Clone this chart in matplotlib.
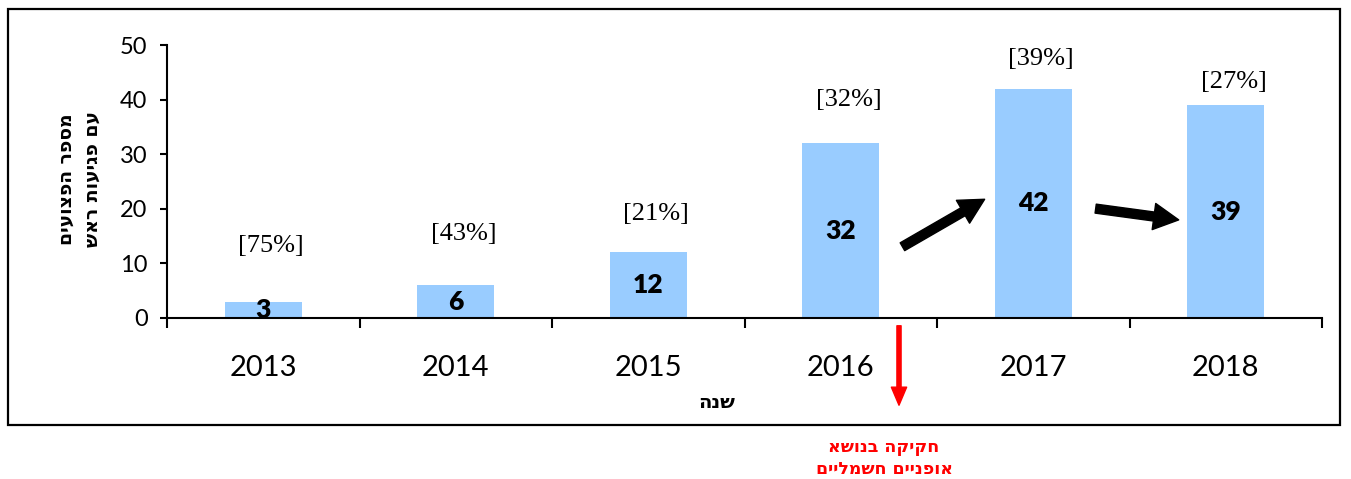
import matplotlib
matplotlib.use("Agg")
import matplotlib.pyplot as plt
from matplotlib.patches import Rectangle, FancyArrowPatch
import numpy as np

years = ["2013", "2014", "2015", "2016", "2017", "2018"]
injured = [3, 6, 12, 32, 42, 39]
pct_labels = ["[75%]", "[43%]", "[21%]", "[32%]", "[39%]", "[27%]"]
y_label_lines = ["מספר הפצועים", "עם פגיעות ראש"]
x_label = "שנה"
note_lines = ["חקיקה בנושא", "אופניים חשמליים"]

# positions / styles (not data)
pct_y = [13.2, 15.3, 19.0, 39.9, 47.5, 43.3]
pct_dx = 0.04


def vis(s):
    # Hebrew is right-to-left; matplotlib has no bidi, so reverse to visual order
    return s[::-1]


HEB = ["DejaVu Sans", "Liberation Sans"]

fig = plt.figure(figsize=(13.51, 4.79), dpi=100)
ax = fig.add_axes([167 / 1351, 161 / 479, 1155 / 1351, 273 / 479])

x = np.arange(len(years))
bars = ax.bar(x, injured, width=0.4, color="#99CCFF", zorder=2)
ax.bar_label(bars, labels=[str(v) for v in injured], label_type="center",
             fontsize=19, fontweight="heavy", family="Lato", color="black")

for xi, t, yy in zip(x, pct_labels, pct_y):
    ax.text(xi + pct_dx, yy, t, ha="center", va="center", fontsize=19,
            family="Liberation Serif")

ax.set_xlim(-0.5, len(years) - 0.5)
ax.set_ylim(0, 50)
ax.set_yticks([0, 10, 20, 30, 40, 50])
ax.set_xticks(x)
ax.set_xticklabels(years)
ax.set_xticks(np.arange(-0.5, len(years)), minor=True)
ax.tick_params(axis="x", which="major", length=0, pad=27, labelsize=21)
ax.tick_params(axis="x", which="minor", length=7, width=1.5, direction="out")
ax.tick_params(axis="y", length=5, width=1.5, pad=9, labelsize=17)
for lab in ax.get_xticklabels() + ax.get_yticklabels():
    lab.set_family("Lato")
for s in ["top", "right"]:
    ax.spines[s].set_visible(False)
for s in ["left", "bottom"]:
    ax.spines[s].set_linewidth(1.5)

ax.text((79 - 167) / 1155, (318 - 179) / 273, "\n".join(vis(l) for l in y_label_lines),
        transform=ax.transAxes, rotation=90, ha="center", va="center",
        multialignment="center", fontsize=13.5, fontweight="bold", family=HEB,
        linespacing=1.45)
ax.text((717 - 167) / 1155, (318 - 403) / 273, vis(x_label), transform=ax.transAxes,
        ha="center", va="center", fontsize=14, fontweight="bold", family=HEB)

# black trend arrows
for (x0, y0), (x1, y1) in [((3.308, 12.8), (3.76, 22.0)), ((4.31, 20.1), (4.77, 17.9))]:
    ar = FancyArrowPatch((x0, y0), (x1, y1), transform=ax.transData,
                         arrowstyle="simple,head_length=18,head_width=19,tail_width=6.5",
                         mutation_scale=1, color="black", zorder=5, clip_on=False)
    ax.add_patch(ar)

# red arrow and note
red = FancyArrowPatch((899 / 1351, (479 - 323) / 479), (899 / 1351, (479 - 408) / 479),
                      transform=fig.transFigure,
                      arrowstyle="simple,head_length=13,head_width=11,tail_width=3",
                      mutation_scale=1, color="#FF0000")
fig.add_artist(red)
fig.text(884 / 1351, (479 - 458) / 479, "\n".join(vis(l) for l in note_lines),
         ha="center", va="center", multialignment="center", color="#FF0000",
         fontsize=12.5, fontweight="bold", family=HEB, linespacing=1.3)

# outer border
fig.add_artist(Rectangle((8 / 1351, (479 - 425) / 479), (1340 - 8) / 1351, (425 - 9) / 479,
                         transform=fig.transFigure, fill=False, edgecolor="black",
                         linewidth=1.6))

fig.savefig("out.png", dpi=100)
